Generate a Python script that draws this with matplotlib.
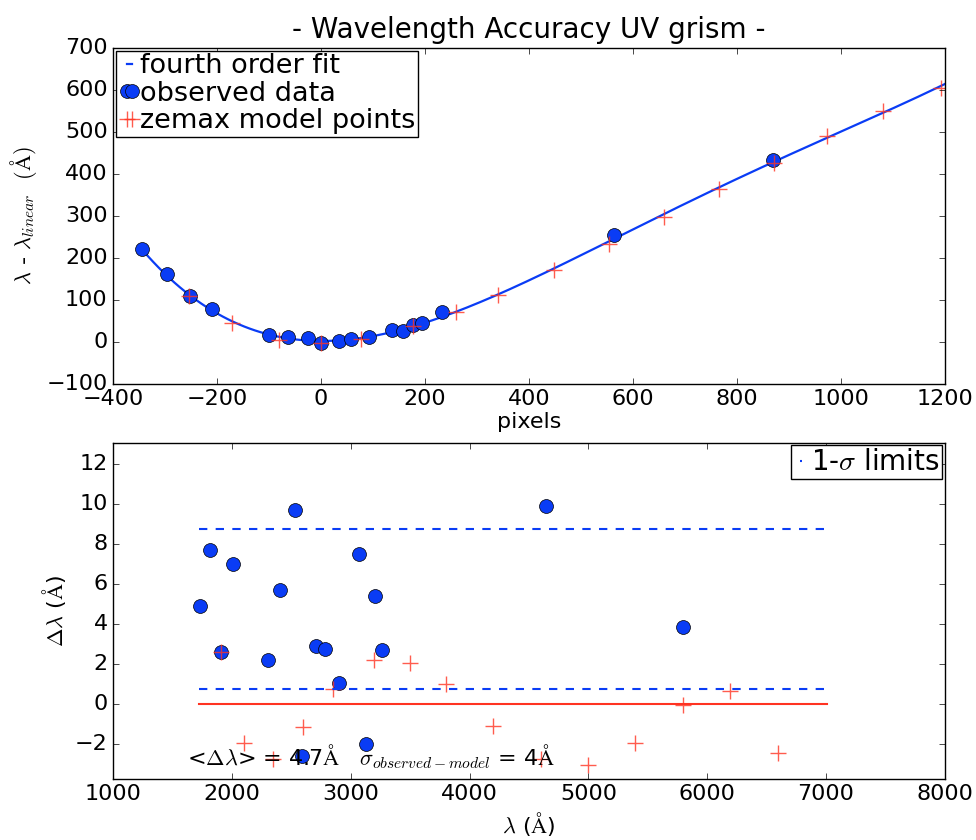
import numpy as np
import matplotlib
matplotlib.use("Agg")
import matplotlib.pyplot as plt

# observed dispersion offsets (pixel position, lambda - lambda_linear in A)
obs_pix = [-344, -297, -253, -210, -100, -64, -26, 0, 35, 57, 93, 137, 158, 176, 195, 232, 563, 870]
obs_dlam = [220, 162, 110, 79, 17, 11, 10, -2, 3, 6, 11, 29, 25, 40, 45, 70, 254, 432]

# zemax model points
mod_pix = [-255, -171, -81, 0, 77, 176, 260, 340, 448, 554, 660, 765, 871, 974, 1081, 1192]
mod_dlam = [110, 45, 5, -2, 7, 39, 71, 112, 170, 233, 298, 364, 426, 490, 550, 605]

# residuals against wavelength
obs_wave = [1727, 1818, 1910, 2011, 2302, 2403, 2529, 2591, 2711, 2787, 2904, 3070, 3126, 3201, 3263, 4647, 5795]
obs_resid = [4.9, 7.7, 2.6, 7.0, 2.2, 5.7, 9.7, -2.6, 2.9, 2.75, 1.03, 7.5, -2.0, 5.4, 2.7, 9.9, 3.83]
mod_wave = [1907, 2097, 2341, 2599, 2854, 3198, 3500, 3798, 4198, 4597, 4997, 5395, 5795, 6193, 6593]
mod_resid = [2.6, -1.95, -2.75, -1.15, 0.72, 2.18, 2.05, 0.97, -1.12, -2.75, -3.08, -1.95, -0.07, 0.63, -2.48]

mean_resid = 4.73
sigma_resid = 4.0
wave_range = [1720, 7010]

plt.style.use("classic")
plt.rcParams["mathtext.fontset"] = "cm"

blue = "#0a3cf5"
red = "#ff3322"
AA = r"$\mathrm{\AA}$"

fig = plt.figure(figsize=(9.76, 8.4), dpi=100, facecolor="white")

# upper panel: offsets from linear dispersion with fourth order fit
ax1 = fig.add_axes([0.116, 0.543, 0.852, 0.4])
coef = np.polyfit(obs_pix + mod_pix, obs_dlam + mod_dlam, 4)
xf = np.linspace(min(obs_pix), 1200, 300)
ax1.plot(xf, np.polyval(coef, xf), "-", color=blue, lw=1.6, label="fourth order fit")
ax1.plot(obs_pix, obs_dlam, "o", color=blue, mec="black", ms=10, label="observed data")
ax1.plot(mod_pix, mod_dlam, "+", color=red, mec=red, ms=11, mew=1, alpha=0.8,
         label="zemax model points")
ax1.set_xlim(-400, 1200)
ax1.set_ylim(-100, 700)
ax1.set_title("- Wavelength Accuracy UV grism -", fontsize=20, y=1.01)
ax1.set_xlabel("pixels", fontsize=16, labelpad=2)
ax1.set_ylabel(r"$\lambda$ - $\lambda_{linear}$  $(\mathrm{\AA})$", fontsize=16)
ax1.tick_params(labelsize=16)
ax1.legend(loc="upper left", fontsize=19.5, numpoints=2, handlelength=0.8,
           handletextpad=0.0, borderpad=0.1, borderaxespad=0.1, labelspacing=0.05)

# lower panel: residuals of observed and model points
ax2 = fig.add_axes([0.116, 0.073, 0.852, 0.4])
ax2.plot(obs_wave, obs_resid, "o", color=blue, mec="black", ms=10)
ax2.plot(mod_wave, mod_resid, "+", color=red, mec=red, ms=11, mew=1, alpha=0.8)
ax2.plot(wave_range, [mean_resid + sigma_resid] * 2, "--", color=blue, lw=1.5,
         dashes=(6, 6), label=r"1-$\sigma$ limits")
ax2.plot(wave_range, [mean_resid - sigma_resid] * 2, "--", color=blue, lw=1.5, dashes=(6, 6))
ax2.plot(wave_range, [0, 0], "-", color=red, lw=1.5)
ax2.set_xlim(1000, 8000)
ax2.set_ylim(-3.75, 13.05)
ax2.set_xlabel(r"$\lambda$ (" + AA + ")", fontsize=16, labelpad=4)
ax2.set_ylabel(r"$\Delta\lambda$ (" + AA + ")", fontsize=16)
ax2.tick_params(labelsize=16)
stats = ("<" + r"$\Delta\lambda$" + "> = %.1f" % mean_resid + AA
         + "   " + r"$\sigma_{observed-model}$" + " = %d" % sigma_resid + AA)
ax2.text(1620, -2.65, stats, fontsize=16, va="center")
ax2.legend(loc="upper right", fontsize=20, numpoints=2, handlelength=0.5,
           handletextpad=0.1, borderpad=0.1, borderaxespad=0.1)

fig.savefig("out.png", dpi=100, facecolor="white")
